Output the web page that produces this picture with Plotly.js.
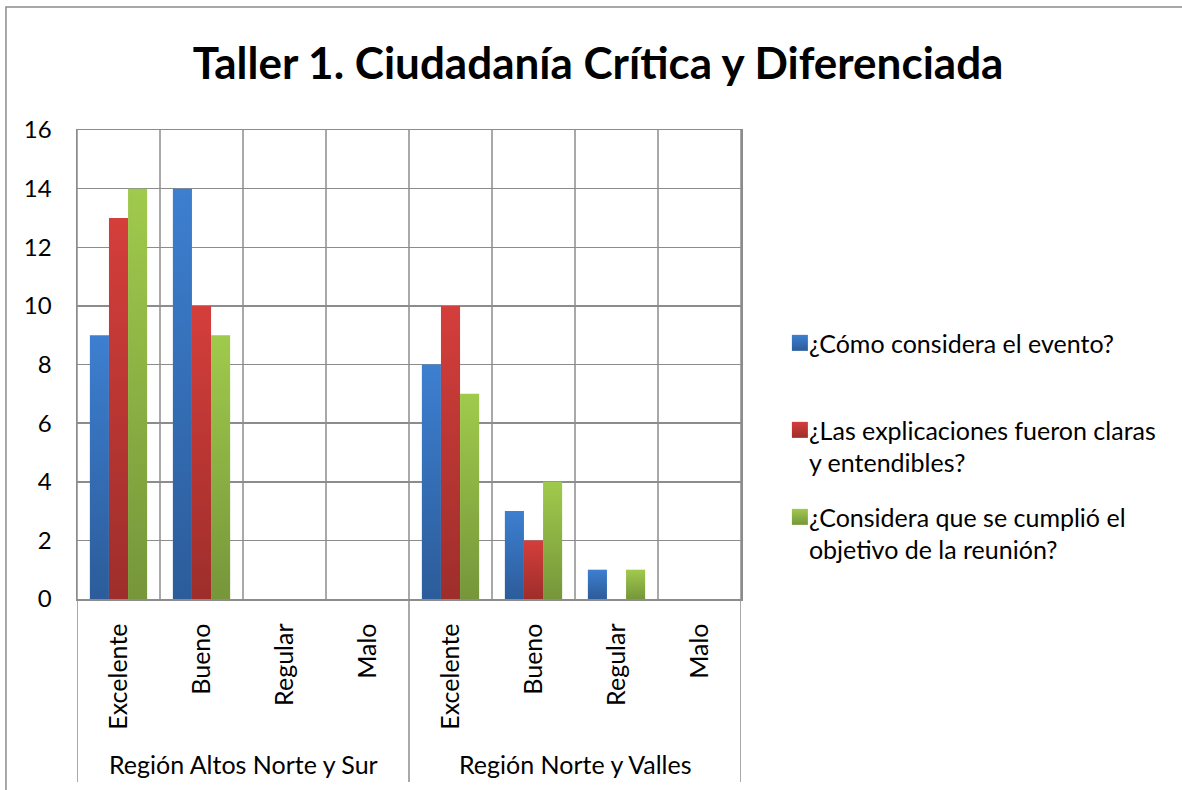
<!DOCTYPE html>
<html>
<head>
<meta charset="utf-8">
<script src="https://cdn.plot.ly/plotly-3.0.1.min.js"></script>
<style>html,body{margin:0;padding:0;background:#fff;}#chart{width:1182px;height:790px;}</style>
</head>
<body>
<div id="chart"></div>
<script>
const chartTitle = "Taller 1. Ciudadanía Crítica y Diferenciada";
const regions = ["Región Altos Norte y Sur", "Región Norte y Valles"];
const ratings = ["Excelente", "Bueno", "Regular", "Malo"];
const seriesNames = [
  "¿Cómo considera el evento?<br> ",
  "¿Las explicaciones fueron claras<br>y entendibles?",
  "¿Considera que se cumplió el<br>objetivo de la reunión?"
];
const seriesColors = ["#3874C2", "#C03A37", "#8DB243"];
const gradTop = ["#3D7FD0", "#D43E3B", "#A0CA4C"];
const gradBottom = ["#2C5C9A", "#9E2E2B", "#76963A"];
// values: region 1 (Excelente, Bueno, Regular, Malo), region 2 (same)
const evento      = [9, 14, 0, 0, 8, 3, 1, 0];
const explicacion = [13, 10, 0, 0, 10, 2, 0, 0];
const objetivo    = [14, 9, 0, 0, 7, 4, 1, 0];
const yTicks = [0, 2, 4, 6, 8, 10, 12, 14, 16];

const nCat = regions.length * ratings.length;
const xIdx = [];
const xText = [];
regions.forEach((r, ri) => ratings.forEach((c, ci) => { xIdx.push(ri * ratings.length + ci); xText.push(c); }));

const font = "Lato, 'Liberation Sans', sans-serif";
const values = [evento, explicacion, objetivo];
const traces = values.map((v, i) => ({
  type: "bar",
  x: xIdx,
  y: v,
  name: seriesNames[i],
  legendgroup: "g" + i,
  marker: { color: seriesColors[i], line: { width: 0 } },
  hoverinfo: "y+name"
}));

const grid = "#8C8C8C";
const shapes = [];
for (let b = 0; b <= nCat; b++) {
  shapes.push({ type: "line", xref: "x", yref: "paper", x0: b - 0.5, x1: b - 0.5, y0: 0, y1: 1, line: { color: grid, width: 1.5 }, layer: "below" });
}
for (let g = 0; g <= regions.length; g++) {
  const xb = g * ratings.length - 0.5;
  shapes.push({ type: "line", xref: "x", yref: "paper", x0: xb, x1: xb, y0: -0.39, y1: 0, line: { color: grid, width: 1.5 } });
}
// outer chart border
shapes.push({ type: "rect", xref: "paper", yref: "paper", x0: -0.107, x1: 1.70, y0: -0.6, y1: 1.262, line: { color: "#8C8C8C", width: 1.5 }, fillcolor: "rgba(0,0,0,0)" });

const annotations = regions.map((r, ri) => ({
  text: r, xref: "x", yref: "paper", x: ri * ratings.length + (ratings.length - 1) / 2, y: -0.352,
  xanchor: "center", yanchor: "middle", showarrow: false, font: { family: font, size: 25, color: "#000" }
}));

const layout = {
  width: 1182, height: 790,
  margin: { l: 77, r: 441, t: 130, b: 191 },
  paper_bgcolor: "#fff", plot_bgcolor: "#fff",
  title: { text: "<b>" + chartTitle + "</b>", x: 0.506, xanchor: "center", y: 0.92, yanchor: "middle", font: { family: font, size: 44, color: "#000" } },
  barmode: "group", bargap: 0.31, bargroupgap: 0,
  xaxis: {
    range: [-0.5, nCat - 0.5], tickvals: xIdx, ticktext: xText, tickangle: -90,
    showgrid: false, zeroline: false, showline: true, linecolor: grid, linewidth: 1.5, mirror: true,
    ticks: "", ticklabelstandoff: 13, tickfont: { family: font, size: 25, color: "#000" }, fixedrange: true
  },
  yaxis: {
    range: [0, 16], tickvals: yTicks, showgrid: true, gridcolor: grid, gridwidth: 1.5, zeroline: false,
    showline: true, linecolor: grid, linewidth: 1.5, mirror: true,
    ticks: "", ticklabelstandoff: 19, tickfont: { family: font, size: 24, color: "#000" }, fixedrange: true
  },
  legend: {
    x: 1.042, xanchor: "left", y: 0.326, yanchor: "middle", traceorder: "grouped", tracegroupgap: 19,
    valign: "top", font: { family: font, size: 25, color: "#000" }, itemwidth: 30, bgcolor: "rgba(0,0,0,0)"
  },
  shapes: shapes, annotations: annotations, showlegend: true
};

function applyGradients(gd) {
  const svg = gd.querySelector("svg.main-svg");
  if (!svg) return;
  const ns = "http://www.w3.org/2000/svg";
  let defs = svg.querySelector("defs");
  if (!defs) { defs = document.createElementNS(ns, "defs"); svg.insertBefore(defs, svg.firstChild); }
  seriesColors.forEach((c, i) => {
    const lg = document.createElementNS(ns, "linearGradient");
    lg.setAttribute("id", "barGrad" + i);
    lg.setAttribute("x1", "0"); lg.setAttribute("y1", "0"); lg.setAttribute("x2", "0"); lg.setAttribute("y2", "1");
    [[0, gradTop[i]], [1, gradBottom[i]]].forEach(([o, col]) => {
      const st = document.createElementNS(ns, "stop");
      st.setAttribute("offset", o); st.setAttribute("stop-color", col);
      lg.appendChild(st);
    });
    defs.appendChild(lg);
  });
  gd.querySelectorAll("g.trace.bars").forEach((tr, i) => {
    tr.querySelectorAll("path").forEach(p => { p.style.fill = "url(#barGrad" + (i % seriesColors.length) + ")"; });
  });
  gd.querySelectorAll("g.legend g.traces").forEach((tr, i) => {
    tr.querySelectorAll("g.legendpoints path").forEach(p => {
      p.setAttribute("d", "M19,8H3V-8H19Z");
      p.style.fill = "url(#barGrad" + (i % seriesColors.length) + ")";
    });
  });
}

Plotly.newPlot("chart", traces, layout, { displayModeBar: false, staticPlot: true }).then(applyGradients);
</script>
</body>
</html>
